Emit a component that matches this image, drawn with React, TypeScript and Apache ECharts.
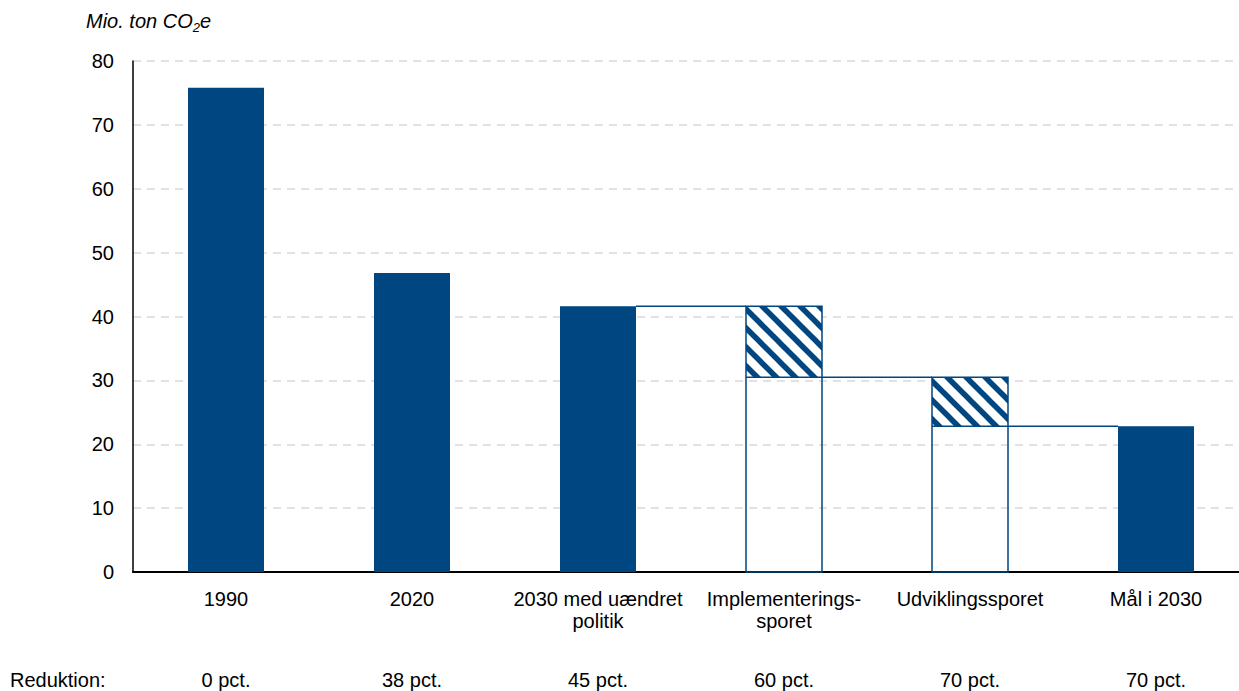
import React, { useEffect, useRef } from "react";
import * as echarts from "echarts";

const categories = [
  "1990",
  "2020",
  "2030 med uændret\npolitik",
  "Implementerings-\nsporet",
  "Udviklingssporet",
  "Mål i 2030",
];
const solidValues: (number | string)[] = [75.8, 46.8, 41.6, "-", "-", 22.8];
// hatched tracks: [category index, top, bottom]
const trackIndex = [3, 4];
const trackTops = [41.6, 30.5];
const trackBottoms = [30.5, 22.8];
// connectors: [from index, to index, level]
const connectorFrom = [2, 3, 4];
const connectorTo = [3, 4, 5];
const connectorLevel = [41.6, 30.5, 22.8];
const reductions = ["0 pct.", "38 pct.", "45 pct.", "60 pct.", "70 pct.", "70 pct."];
const yMin = 0;
const yMax = 80;
const yInterval = 10;

const NAVY = "#004680";
const FONT = "'Liberation Sans', Arial, sans-serif";
const BAR_W = 76;
const FS = 20;

function makePattern() {
  const s = 19;
  const c = document.createElement("canvas");
  c.width = s;
  c.height = s;
  const ctx = c.getContext("2d")!;
  ctx.fillStyle = "#ffffff";
  ctx.fillRect(0, 0, s, s);
  ctx.strokeStyle = NAVY;
  ctx.lineWidth = 5.5;
  for (let k = -2; k <= 2; k++) {
    ctx.beginPath();
    ctx.moveTo(k * s - s, -s);
    ctx.lineTo(k * s + 2 * s, 2 * s);
    ctx.stroke();
  }
  return c;
}

export default function App() {
  const ref = useRef<HTMLDivElement>(null);
  useEffect(() => {
    if (!ref.current) return;
    const chart = echarts.init(ref.current, undefined, { renderer: "svg" });
    const pattern = { image: makePattern(), repeat: "repeat" };

    const trackData = trackIndex.map((i, k) => [i, trackTops[k], trackBottoms[k]]);
    const connData = connectorFrom.map((f, k) => [f, connectorTo[k], connectorLevel[k]]);

    chart.setOption({
      animation: false,
      textStyle: { fontFamily: FONT },
      grid: { left: 133, right: 1, top: 61, bottom: 119, containLabel: false },
      graphic: [
        {
          type: "text",
          left: 86,
          top: 11,
          style: {
            text: "{i|Mio. ton CO}{s|2}{i|e}",
            rich: {
              i: { fontSize: 20, fontStyle: "italic", fontFamily: FONT, lineHeight: 25, fill: "#000" },
              s: { fontSize: 13, fontStyle: "italic", fontFamily: FONT, lineHeight: 11, verticalAlign: "bottom", fill: "#000" },
            },
          },
        },
        {
          type: "text",
          left: 10,
          top: 670,
          style: { text: "Reduktion:", fontSize: FS, fontFamily: FONT, fill: "#000", lineHeight: 20 },
        },
      ],
      xAxis: [
        {
          type: "category",
          data: categories,
          position: "bottom",
          axisLine: { show: true, lineStyle: { color: "#000", width: 2 } },
          axisTick: { show: false },
          axisLabel: { interval: 0, fontSize: FS, lineHeight: 22, color: "#000", margin: 16, fontFamily: FONT },
          splitLine: { show: false },
        },
        {
          type: "category",
          data: reductions,
          position: "bottom",
          offset: 98,
          axisLine: { show: false },
          axisTick: { show: false },
          axisLabel: { interval: 0, fontSize: FS, lineHeight: 20, color: "#000", margin: 0, fontFamily: FONT },
          splitLine: { show: false },
        },
      ],
      yAxis: {
        type: "value",
        min: yMin,
        max: yMax,
        interval: yInterval,
        axisLine: { show: true, lineStyle: { color: "#000", width: 1.5 } },
        axisTick: { show: false },
        axisLabel: { fontSize: FS, color: "#000", margin: 19, fontFamily: FONT },
        splitLine: { show: true, lineStyle: { color: "#d9d9d9", width: 1.5, type: [8, 6] } },
      },
      series: [
        {
          type: "bar",
          data: solidValues,
          barWidth: BAR_W,
          itemStyle: { color: NAVY },
          z: 3,
        },
        {
          type: "custom",
          coordinateSystem: "cartesian2d",
          data: trackData,
          encode: { x: 0, y: [1, 2] },
          z: 4,
          renderItem: (params: any, api: any) => {
            const idx = api.value(0);
            const top = api.value(1);
            const bot = api.value(2);
            const c0 = api.coord([idx, 0]);
            const cT = api.coord([idx, top]);
            const cB = api.coord([idx, bot]);
            const x = c0[0] - BAR_W / 2;
            return {
              type: "group",
              children: [
                {
                  type: "rect",
                  shape: { x, y: cT[1], width: BAR_W, height: cB[1] - cT[1] },
                  style: { fill: pattern as any, stroke: null },
                },
                {
                  type: "rect",
                  shape: { x, y: cT[1], width: BAR_W, height: c0[1] - cT[1] },
                  style: { fill: "none", stroke: NAVY, lineWidth: 1.5 },
                },
                {
                  type: "line",
                  shape: { x1: x, y1: cB[1], x2: x + BAR_W, y2: cB[1] },
                  style: { stroke: NAVY, lineWidth: 1.5 },
                },
              ],
            };
          },
        },
        {
          type: "custom",
          coordinateSystem: "cartesian2d",
          data: connData,
          encode: { x: [0, 1], y: 2 },
          z: 4,
          renderItem: (params: any, api: any) => {
            const from = api.value(0);
            const to = api.value(1);
            const lvl = api.value(2);
            const p1 = api.coord([from, lvl]);
            const p2 = api.coord([to, lvl]);
            return {
              type: "line",
              shape: { x1: p1[0] + BAR_W / 2, y1: p1[1], x2: p2[0] - BAR_W / 2, y2: p2[1] },
              style: { stroke: NAVY, lineWidth: 1.5 },
            };
          },
        },
      ],
    });
    return () => chart.dispose();
  }, []);
  return (
    <div style={{ position: "absolute", left: 0, top: 0, width: 1239, height: 691, overflow: "hidden" }}>
      <div ref={ref} style={{ width: 1250, height: 691 }} />
    </div>
  );
}
